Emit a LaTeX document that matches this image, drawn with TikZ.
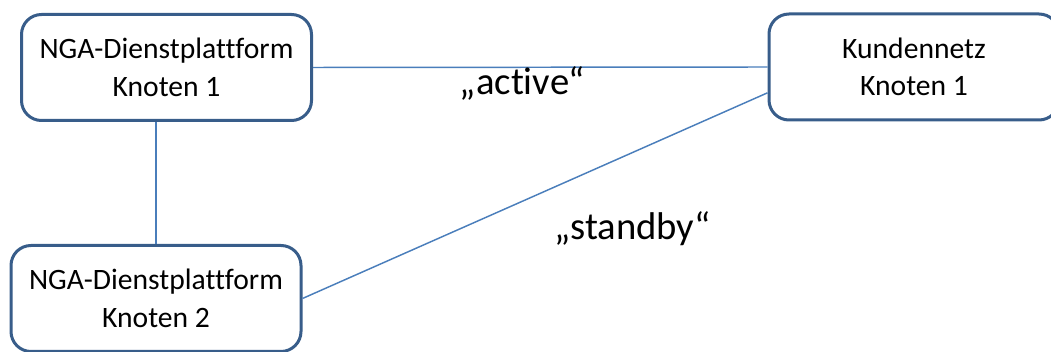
\documentclass[tikz,border=0pt]{standalone}
\usepackage{fontspec}
\setmainfont[Ligatures=NoCommon]{Carlito}
\usepackage{xcolor}
\usetikzlibrary{positioning,calc}
\definecolor{boxblue}{RGB}{56,93,138}
\definecolor{linkblue}{RGB}{74,126,187}

\begin{document}
\begin{tikzpicture}[
  x=0.75pt, y=-0.75pt,
  knoten/.style={draw=boxblue, line width=2.25pt, rounded corners=15pt,
                 fill=white, align=center, inner sep=2pt,
                 minimum width=217.5pt, minimum height=79.5pt,
                 font=\fontsize{22.2}{28.2}\selectfont},
  link/.style={draw=linkblue, line width=1.1pt},
  state/.style={anchor=base, inner sep=0pt,
                font=\fontsize{29}{34}\selectfont},
]
\useasboundingbox (0,0) rectangle (1051,352);
% nodes of the platform and the customer network
\node[knoten] (dp1) at (166.5,67.5) {NGA-Dienstplattform\\Knoten 1};
\node[knoten] (dp2) at (156,298.5) {NGA-Dienstplattform\\Knoten 2};
\node[knoten] (kn1) at (914,67) {Kundennetz\\Knoten 1};
% links
\draw[link] (dp1.east) -- (kn1.west);
\draw[link] (dp2.north |- dp1.south) -- (dp2.north);
\draw[link] (dp2.east) -- (kn1.190);
% link states
\node[state] (act) at (522.5,95) {„active“};
\node[state] (stb) at (632.5,240) {„standby“};
\end{tikzpicture}
\end{document}
